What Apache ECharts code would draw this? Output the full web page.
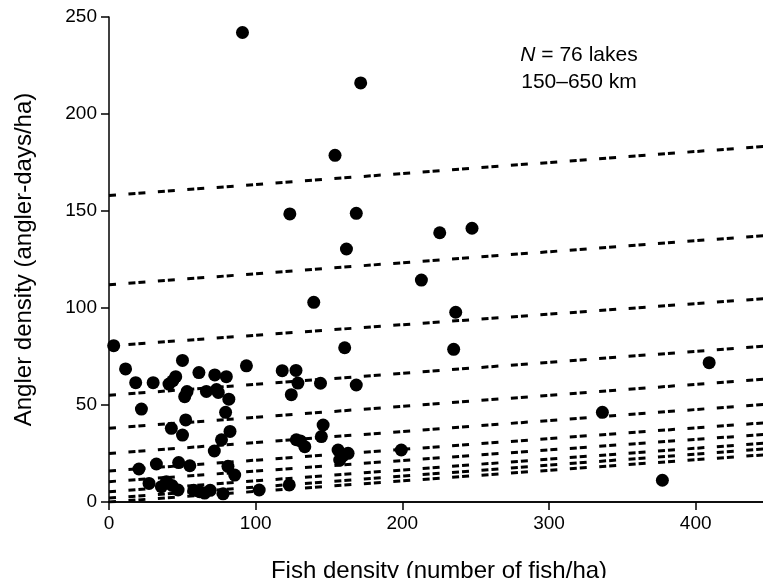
<!DOCTYPE html>
<html>
<head>
<meta charset="utf-8">
<title>Angler density vs fish density</title>
<script src="https://cdn.jsdelivr.net/npm/echarts@6/dist/echarts.min.js"></script>
<style>
    html, body { margin: 0; padding: 0; background: #fff; }
    #chart { width: 763px; height: 578px; }
</style>
</head>
<body>
<div id="chart"></div>
<script>
// lakes: fish density (fish/ha) and angler density (angler-days/ha)
const lakeFish = [
    91, 171.6, 154.1, 168.6, 123.3, 161.9, 225.5, 247.5, 213, 139.6,
    236.4, 235, 160.7, 144.2, 168.6, 127.5, 128.8, 124.3, 146, 144.8,
    127.7, 130.5, 133.5, 156.2, 163, 157.3, 159.4, 199.3, 122.9, 336.4,
    377.3, 409.2, 118.1, 3.2, 11.3, 50.1, 18.2, 30.1, 45.5, 40.9,
    61.3, 53.2, 51.6, 72.1, 80, 66.4, 73.3, 81.7, 93.7, 22.1,
    52.3, 42.5, 50.1, 79.5, 82.5, 76.7, 71.8, 20.4, 32.3, 47.5,
    55.1, 81.1, 85.7, 27.3, 35.7, 39.1, 47.1, 57.8, 61.8, 65.2,
    77.8, 102.4, 43, 69, 43.5, 74.5
];
const lakeAnglers = [
    242, 216, 178.7, 148.8, 148.5, 130.4, 138.8, 141.1, 114.4, 102.9,
    97.8, 78.7, 79.5, 61.2, 60.3, 67.8, 61.3, 55.3, 39.7, 33.7,
    32.1, 31.5, 28.5, 26.8, 25.1, 21.6, 23.8, 26.8, 8.8, 46.2,
    11.2, 71.8, 67.7, 80.6, 68.6, 73, 61.5, 61.5, 64.6, 60.8,
    66.7, 56.9, 54.3, 65.5, 64.6, 57, 58, 53, 70.2, 47.9,
    42.3, 38, 34.5, 46.2, 36.4, 32.1, 26.3, 17, 19.6, 20.3,
    18.7, 18.4, 13.9, 9.6, 7.9, 10.5, 6.2, 6, 5.3, 4.6,
    4.2, 6.2, 8.5, 6, 62.5, 56.5
];

// dashed reference lines: value at fish density 0 and at 450
const lineFishRange = [0, 450];
const lineStart = [158, 112, 80.5, 55, 38, 25, 16, 10.5, 5.3, 2, 0];
const lineEnd = [183.5, 137.5, 105, 80.5, 63.5, 50.5, 41, 35, 30.5, 27.5, 24.5];

const xTicks = { min: 0, max: 450, interval: 100 };
const yTicks = { min: 0, max: 250, interval: 50 };

const FONT = '"Liberation Sans", Arial, Helvetica, sans-serif';

const myEcharts = echarts.init(document.getElementById('chart'), null, { renderer: 'canvas' });

// paired dashes: "-- -- --"
const lineSeries = lineStart.map((v, i) => ({
    type: 'line',
    silent: true,
    symbol: 'none',
    z: 1,
    lineStyle: {
        color: '#000',
        width: 3,
        type: [7, 12.5, 7, 3]
    },
    data: [[lineFishRange[0], v], [lineFishRange[1], lineEnd[i]]]
}));

const option = {
    animation: false,
    backgroundColor: '#fff',
    grid: {
        left: 109,
        top: 17,
        right: -6,
        bottom: 76,
        outerBoundsMode: 'none'
    },
    xAxis: [{
        type: 'value',
        position: 'bottom',
        min: xTicks.min,
        max: xTicks.max,
        interval: xTicks.interval,
        name: 'Fish density (number of fish/ha)',
        nameLocation: 'middle',
        nameGap: 57,
        nameTextStyle: { color: '#000', fontSize: 24, fontFamily: FONT },
        axisLine: { show: true, onZero: false, lineStyle: { color: '#000', width: 1.5 } },
        axisTick: { show: true, length: 8, lineStyle: { color: '#000', width: 1.5 } },
        axisLabel: { color: '#000', fontSize: 19, fontFamily: FONT, margin: 12, showMaxLabel: false },
        splitLine: { show: false }
    }, {
        // plain frame line along the top
        type: 'value',
        position: 'top',
        min: xTicks.min,
        max: xTicks.max,
        axisLine: { show: true, lineStyle: { color: '#000', width: 1.5 } },
        axisTick: { show: false },
        axisLabel: { show: false },
        splitLine: { show: false }
    }],
    yAxis: {
        type: 'value',
        min: yTicks.min,
        max: yTicks.max,
        interval: yTicks.interval,
        name: 'Angler density (angler-days/ha)',
        nameLocation: 'middle',
        nameGap: 73,
        nameTextStyle: { color: '#000', fontSize: 24, fontFamily: FONT },
        axisLine: { show: true, onZero: false, lineStyle: { color: '#000', width: 1.5 } },
        axisTick: { show: true, length: 8, lineStyle: { color: '#000', width: 1.5 } },
        axisLabel: { color: '#000', fontSize: 19, fontFamily: FONT, margin: 12 },
        splitLine: { show: false }
    },
    graphic: [{
        type: 'text',
        x: 579,
        y: 68.5,
        style: {
            text: '{i|N} = 76 lakes\n150\u2013650 km',
            fill: '#000',
            fontSize: 21,
            fontFamily: FONT,
            lineHeight: 27,
            align: 'center',
            verticalAlign: 'middle',
            rich: {
                i: { fontStyle: 'italic', fontSize: 21, fontFamily: FONT, fill: '#000', lineHeight: 27 }
            }
        }
    }],
    series: lineSeries.concat([{
        type: 'scatter',
        z: 3,
        symbol: 'circle',
        symbolSize: 13,
        itemStyle: { color: '#000', opacity: 1 },
        data: lakeFish.map((f, i) => [f, lakeAnglers[i]])
    }])
};

myEcharts.setOption(option);
</script>
</body>
</html>
